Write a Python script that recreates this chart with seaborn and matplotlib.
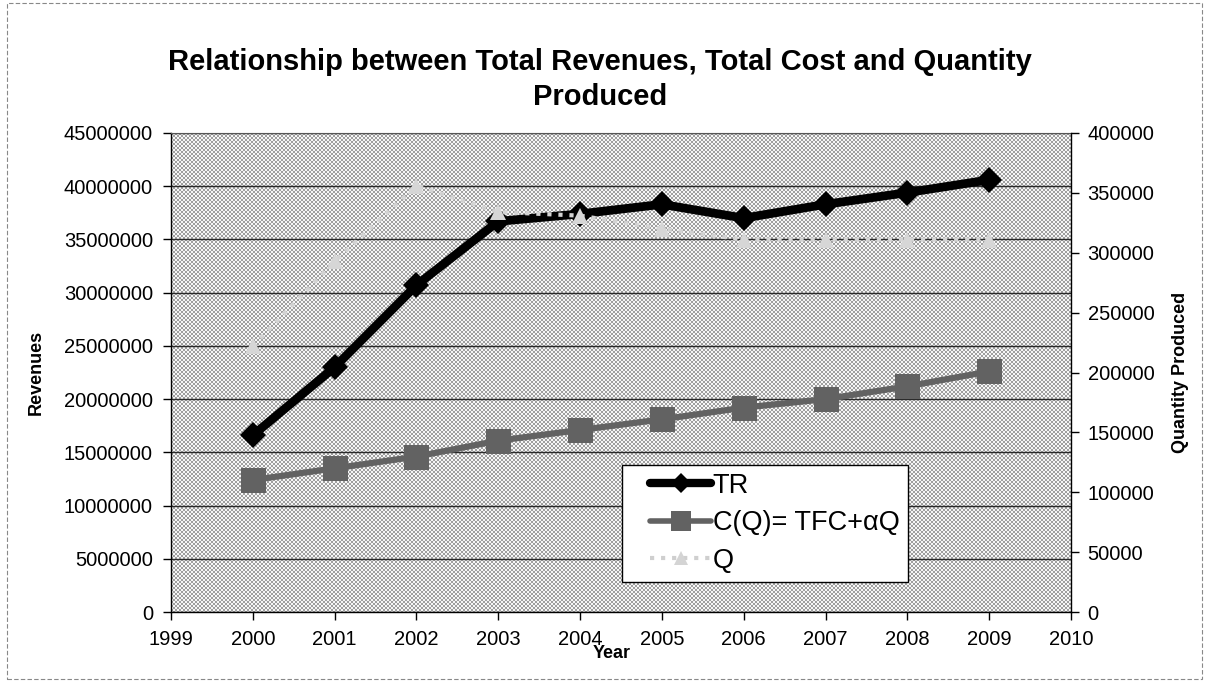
import numpy as np
import pandas as pd
import matplotlib
matplotlib.use("Agg")
import matplotlib.pyplot as plt
from matplotlib.patches import Rectangle
from matplotlib.lines import Line2D
from matplotlib.legend_handler import HandlerLine2D
import seaborn as sns

# ---- data -------------------------------------------------------------
years = [2000, 2001, 2002, 2003, 2004, 2005, 2006, 2007, 2008, 2009]
total_revenue = [16.6e6, 23.0e6, 30.7e6, 36.7e6, 37.4e6, 38.3e6, 37.0e6, 38.3e6, 39.4e6, 40.6e6]
total_cost = [12.4e6, 13.5e6, 14.6e6, 16.1e6, 17.1e6, 18.1e6, 19.2e6, 20.0e6, 21.2e6, 22.6e6]
quantity = [222000, 293000, 356000, 334000, 331000, 320000, 311000, 311000, 311000, 311000]

year_ticks = list(range(1999, 2011))
revenue_ticks = list(range(0, 45000001, 5000000))
quantity_ticks = list(range(0, 400001, 50000))

series_labels = ["TR", "C(Q)= TFC+\u03b1Q", "Q"]
title_lines = ["Relationship between Total Revenues, Total Cost and Quantity",
               "Produced"]

df = pd.DataFrame({"Year": years, "TR": total_revenue,
                   "Cost": total_cost, "Q": quantity})

# ---- style ------------------------------------------------------------
sns.set_theme(style="white")
plt.rcParams["font.family"] = ["Liberation Sans", "DejaVu Sans"]
for key in ("text.color", "axes.labelcolor", "xtick.color", "ytick.color"):
    plt.rcParams[key] = "black"

W, H, DPI = 1209, 682, 100
fig = plt.figure(figsize=(W / DPI, H / DPI), dpi=DPI)
fig.patch.set_facecolor("white")

left_px, right_px, top_px, bottom_px = 171, 1071, 133, 612
ax = fig.add_axes([left_px / W, 1 - bottom_px / H,
                   (right_px - left_px) / W, (bottom_px - top_px) / H])
ax.set_facecolor("none")

# stippled plot-area fill
pw, ph = right_px - left_px, bottom_px - top_px
ii, jj = np.mgrid[0:ph, 0:pw]
dots = ((ii // 2) % 2) == ((jj // 2) % 2)
fill = np.where(dots, 0.63, 0.97)[..., None] * np.ones(3)
fig.figimage(fill, xo=left_px, yo=H - bottom_px, origin="upper", zorder=-1)

# ---- primary axis: revenue and cost ----------------------------------
tr_style = dict(color="black", lw=6.3, marker="D", markersize=13,
                markeredgewidth=0)
cost_style = dict(color="#626262", lw=4.5, marker="s", markersize=18,
                  markeredgewidth=0)
q_style = dict(color="#d3d3d3", lw=3, linestyle=":", marker="^",
               markersize=11, markerfacecolor="#d6d6d6", markeredgewidth=0)

sns.lineplot(data=df, x="Year", y="Cost", ax=ax, legend=False, zorder=3,
             **cost_style)
sns.lineplot(data=df, x="Year", y="TR", ax=ax, legend=False, zorder=4,
             **tr_style)

ax.set_xlim(year_ticks[0], year_ticks[-1])
ax.set_xticks(year_ticks)
ax.set_xticklabels([str(y) for y in year_ticks])
ax.set_ylim(revenue_ticks[0], revenue_ticks[-1])
ax.set_yticks(revenue_ticks)
ax.set_yticklabels([str(v) for v in revenue_ticks])
ax.grid(axis="y", color="#2a2a2a", lw=1)
ax.grid(axis="x", visible=False)
ax.set_axisbelow(True)

ax.tick_params(axis="both", which="major", direction="out", length=6,
               width=1, color="black", labelsize=14.5, pad=7,
               bottom=True, left=True)
for side in ("left", "bottom"):
    ax.spines[side].set_color("black")
    ax.spines[side].set_linewidth(1)
ax.spines["top"].set_color("#555555")
ax.spines["top"].set_linewidth(0.8)
ax.spines["right"].set_visible(False)

ax.set_xlabel("Year", fontsize=13, fontweight="bold")
ax.xaxis.set_label_coords(0.49, -0.068)
ax.set_ylabel("Revenues", fontsize=13, fontweight="bold")
ax.yaxis.set_label_coords(-0.14, 0.5)

# ---- secondary axis: quantity ----------------------------------------
ax2 = ax.twinx()
ax2.set_facecolor("none")
sns.lineplot(data=df, x="Year", y="Q", ax=ax2, legend=False, zorder=5,
             **q_style)
ax2.set_ylim(quantity_ticks[0], quantity_ticks[-1])
ax2.set_yticks(quantity_ticks)
ax2.set_yticklabels([str(v) for v in quantity_ticks])
ax2.grid(False)
ax2.tick_params(axis="y", direction="out", length=6, width=1,
                color="black", labelsize=14.5, pad=6, right=True)
for side in ("left", "bottom", "top"):
    ax2.spines[side].set_visible(False)
ax2.spines["right"].set_color("black")
ax2.spines["right"].set_linewidth(1)
ax2.set_ylabel("Quantity Produced", fontsize=13, fontweight="bold")
ax2.yaxis.set_label_coords(1.112, 0.5)

# ---- legend -----------------------------------------------------------
handles = [
    Line2D([], [], color="black", lw=6, marker="D", markersize=10,
           markeredgewidth=0),
    Line2D([], [], color="#626262", lw=4, marker="s", markersize=15,
           markeredgewidth=0),
    Line2D([], [], color="#cfcfcf", lw=3, linestyle=":", marker="^",
           markersize=10, markerfacecolor="#d4d4d4", markeredgewidth=0),
]
leg = ax2.legend(handles, series_labels, loc="upper left",
                 bbox_to_anchor=(0.501, 0.078, 0.318, 0.2296), mode="expand",
                 fontsize=19.5, frameon=True, fancybox=False, shadow=False,
                 edgecolor="black", facecolor="white", framealpha=1,
                 handlelength=3.0, labelspacing=0.42, borderpad=0.3,
                 handletextpad=0.05, borderaxespad=0,
                 handler_map={Line2D: HandlerLine2D(xpad=0.75)})
leg.get_frame().set_linewidth(1)
leg.set_zorder(10)

# ---- title and chart border -----------------------------------------
for text, y_px in zip(title_lines, (62, 97)):
    fig.text(600 / W, 1 - y_px / H, text, ha="center", va="center",
             fontsize=21, fontweight="bold")
fig.patches.append(Rectangle((0.006, 0.005), 0.988, 0.99,
                             transform=fig.transFigure, fill=False,
                             edgecolor="#888888", lw=0.8,
                             linestyle=(0, (4, 2))))

fig.savefig("out.png", dpi=DPI)
